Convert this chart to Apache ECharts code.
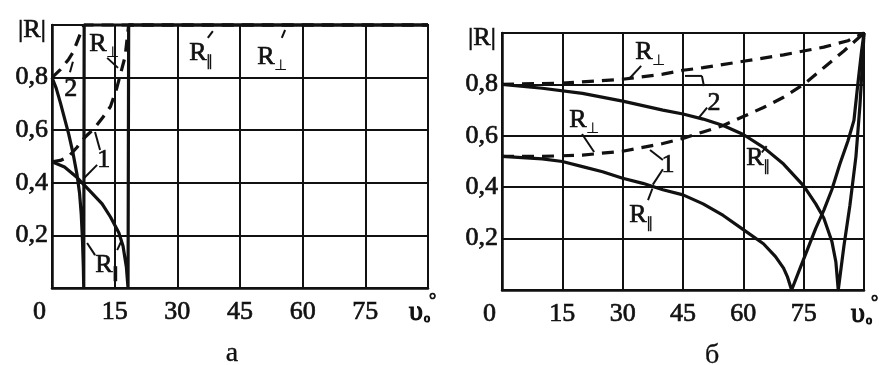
<!DOCTYPE html>
<html>
<head>
<meta charset="utf-8">
<script src="https://cdn.jsdelivr.net/npm/echarts@6/dist/echarts.min.js"></script>
<style>
  html, body { margin: 0; padding: 0; background: #fff; }
  #chart { width: 882px; height: 365px; }
</style>
</head>
<body>
<div id="chart"></div>
<script>
const FONT = '"Liberation Serif", "DejaVu Serif", serif';
const INK = '#111';

// angle of incidence, degrees
const angleTicks = [0, 15, 30, 45, 60, 75, 90];
// |R| tick values
const rTicks = [0, 0.2, 0.4, 0.6, 0.8, 1.0];

// Panel "а": reflection from the optically denser side, media pairs 1 and 2
const aParallel1 = [[0,0.48],[3,0.46],[6,0.42],[9,0.37],[12,0.32],[14,0.27],[16,0.21],[17,0.16],[17.8,0.08],[18.2,0],[18.35,1],[90,1]];
const aPerp1     = [[0,0.48],[2,0.485],[4,0.50],[6,0.535],[8,0.575],[10,0.605],[12,0.645],[14,0.69],[15.5,0.76],[16.5,0.82],[17.5,0.88],[18.35,1],[90,1]];
const aParallel2 = [[0,0.8],[1,0.76],[2,0.705],[3,0.645],[4,0.585],[5,0.515],[6,0.43],[6.6,0.36],[7,0.28],[7.3,0.18],[7.5,0.08],[7.6,0],[7.7,1],[90,1]];
const aPerp2     = [[0,0.8],[1,0.815],[2,0.83],[3,0.85],[4,0.87],[5,0.895],[6,0.935],[7,0.975],[7.7,1],[90,1]];

// Panel "б": reflection from the optically rarer side, media pairs 1 and 2
const bParallel1 = [[0,0.52],[10,0.51],[15,0.50],[20,0.48],[25,0.46],[30,0.435],[35,0.415],[40,0.39],[45,0.37],[50,0.335],[55,0.29],[60,0.235],[65,0.18],[68,0.13],[70,0.085],[71,0.05],[72,0],[74,0.08],[76,0.16],[78,0.24],[80,0.31],[82,0.39],[84,0.49],[86,0.58],[87.5,0.66],[88.6,0.82],[89.4,0.93],[90,1]];
const bPerp1     = [[0,0.52],[10,0.52],[20,0.525],[30,0.54],[40,0.57],[45,0.59],[50,0.615],[55,0.64],[60,0.675],[65,0.71],[70,0.75],[75,0.80],[80,0.865],[85,0.93],[90,1]];
const bParallel2 = [[0,0.8],[10,0.785],[20,0.765],[30,0.735],[40,0.70],[45,0.685],[50,0.665],[55,0.64],[60,0.605],[65,0.555],[70,0.49],[75,0.405],[78,0.335],[80,0.28],[82,0.19],[83,0.11],[83.6,0],[85,0.17],[86.5,0.33],[88,0.52],[89,0.72],[89.6,0.88],[90,1]];
const bPerp2     = [[0,0.8],[15,0.805],[30,0.82],[40,0.84],[45,0.855],[50,0.865],[60,0.89],[70,0.915],[80,0.945],[86,0.97],[90,1]];

// Curve labels (text, subscript, anchor in [angle, |R|]) and their leader lines
const labelsA = [
  { text: 'R', sub: '⊥', at: [11.0, 0.928] },
  { text: '2', at: [4.5, 0.757] },
  { text: '1', at: [12.4, 0.487] },
  { text: 'R', sub: '∥', at: [12.4, 0.087] },
  { text: 'R', sub: '∥', at: [34.9, 0.894] },
  { text: 'R', sub: '⊥', at: [51.2, 0.878] }
];
const leadersA = [
  [[13.2, 0.875], [15.8, 0.837]],
  [[4.3, 0.82], [5.0, 0.86]],
  [[11.5, 0.525], [10.3, 0.593]],
  [[10.8, 0.468], [7.7, 0.418]],
  [[10.3, 0.125], [8.4, 0.171]],
  [[15.6, 0.144], [16.5, 0.175]],
  [[37.3, 0.951], [38.5, 0.977]],
  [[55.0, 0.951], [55.8, 0.981]]
];
const labelsB = [
  { text: 'R', sub: '⊥', at: [35.3, 0.926] },
  { text: 'R', sub: '⊥', at: [18.9, 0.661] },
  { text: '2', at: [52.7, 0.728] },
  { text: '1', at: [41.3, 0.486] },
  { text: 'R', sub: '∥', at: [62.9, 0.514] },
  { text: 'R', sub: '∥', at: [33.8, 0.292] }
];
const leadersB = [
  [[34.6, 0.872], [31.8, 0.825]],
  [[19.9, 0.607], [22.9, 0.537]],
  [[45.5, 0.833], [49.7, 0.833]],
  [[49.7, 0.833], [50.2, 0.794]],
  [[49.0, 0.672], [51.0, 0.71]],
  [[40.0, 0.506], [36.8, 0.545]],
  [[40.0, 0.47], [37.5, 0.41]],
  [[64.6, 0.535], [65.8, 0.56]],
  [[36.3, 0.350], [37.4, 0.395]]
];
const captions = ['а', 'б'];

const chart = echarts.init(document.getElementById('chart'), null, { renderer: 'canvas' });

// regular serif, slightly thickened with an outline of the same ink
const tickFont = { color: INK, fontFamily: FONT, fontSize: 26, textBorderColor: INK, textBorderWidth: 0.7 };

function xAxisFor(gi) {
  return {
    type: 'value', gridIndex: gi,
    min: angleTicks[0], max: angleTicks[angleTicks.length - 1], interval: 15,
    axisLine: { show: true, lineStyle: { color: INK, width: 2.5 } },
    axisTick: { show: false },
    splitLine: { show: true, lineStyle: { color: INK, width: 2 } },
    axisLabel: Object.assign({
      margin: 11,
      formatter: v => v === 90 ? '' : (v === 0 ? '{z|0}' : String(v)),
      rich: { z: Object.assign({ padding: [0, 25, 0, 0] }, tickFont) }
    }, tickFont)
  };
}
function yAxisFor(gi) {
  return {
    type: 'value', gridIndex: gi,
    min: rTicks[0], max: rTicks[rTicks.length - 1], interval: 0.2,
    axisLine: { show: true, lineStyle: { color: INK, width: 2.5 } },
    axisTick: { show: false },
    splitLine: { show: true, lineStyle: { color: INK, width: 2 } },
    axisLabel: Object.assign({
      margin: 4,
      formatter: v => (v < 0.1 || v > 0.9) ? '' : v.toFixed(1).replace('.', ',')
    }, tickFont)
  };
}
function curve(gi, data, dashed) {
  return {
    type: 'line', xAxisIndex: gi, yAxisIndex: gi, data,
    showSymbol: false, symbol: 'none', clip: false, silent: true,
    lineStyle: { color: INK, width: 3.2, type: dashed ? [12, 8] : 'solid', cap: 'butt' }
  };
}

chart.setOption({
  animation: false,
  backgroundColor: '#fff',
  grid: [
    { left: 52, top: 25, width: 376, height: 263, show: true, borderColor: INK, borderWidth: 2 },
    { left: 502, top: 33, width: 362, height: 257, show: true, borderColor: INK, borderWidth: 2 }
  ],
  xAxis: [xAxisFor(0), xAxisFor(1)],
  yAxis: [yAxisFor(0), yAxisFor(1)],
  series: [
    curve(0, aPerp1, true), curve(0, aPerp2, true),
    curve(0, aParallel1, false), curve(0, aParallel2, false),
    curve(1, bPerp1, true), curve(1, bPerp2, true),
    curve(1, bParallel1, false), curve(1, bParallel2, false)
  ]
});

// Annotations: curve labels, leaders, axis titles and panel captions
const px = (gi, p) => chart.convertToPixel({ gridIndex: gi }, p);
const graphics = [];
function addText(x, y, text, size, align, family, outline) {
  graphics.push({ type: 'text', silent: true, x, y,
    style: { text, fill: INK, font: size + 'px ' + (family || FONT), align: align || 'center', verticalAlign: 'middle',
      stroke: INK, lineWidth: outline == null ? 0.7 : outline } });
}
function addLabels(gi, labels, leaders) {
  labels.forEach(l => {
    const [x, y] = px(gi, l.at);
    addText(x, y, l.text, 26);
    if (l.sub) addText(x + 8, y + 9, l.sub, 15, 'left', '"DejaVu Sans", sans-serif', 0.2);
  });
  leaders.forEach(seg => {
    const [x1, y1] = px(gi, seg[0]);
    const [x2, y2] = px(gi, seg[1]);
    graphics.push({ type: 'line', silent: true, shape: { x1, y1, x2, y2 }, style: { stroke: INK, lineWidth: 2 } });
  });
}
addLabels(0, labelsA, leadersA);
addLabels(1, labelsB, leadersB);

[[0, -12, 180], [1, -6, 210]].forEach(([gi, dx, capDx]) => {
  const [x0, y1] = px(gi, [0, 1]);
  const [x90, y0] = px(gi, [90, 0]);
  addText(x0 - 20, y1 + 5, '|R|', 26);
  addText(x90 + dx, y0 + 25, 'υ', 28, 'center', FONT, 1.2);
  addText(x90 + dx + 8, y0 + 31, 'o', 12, 'left', FONT, 1.2);
  addText(x90 + dx + 13, y0 + 13, '°', 18, 'left', FONT, 0.8);
  addText(x0 + capDx, y0 + 66, captions[gi], 28, 'center', FONT, 0.3);
});

chart.setOption({ graphic: graphics });
</script>
</body>
</html>
